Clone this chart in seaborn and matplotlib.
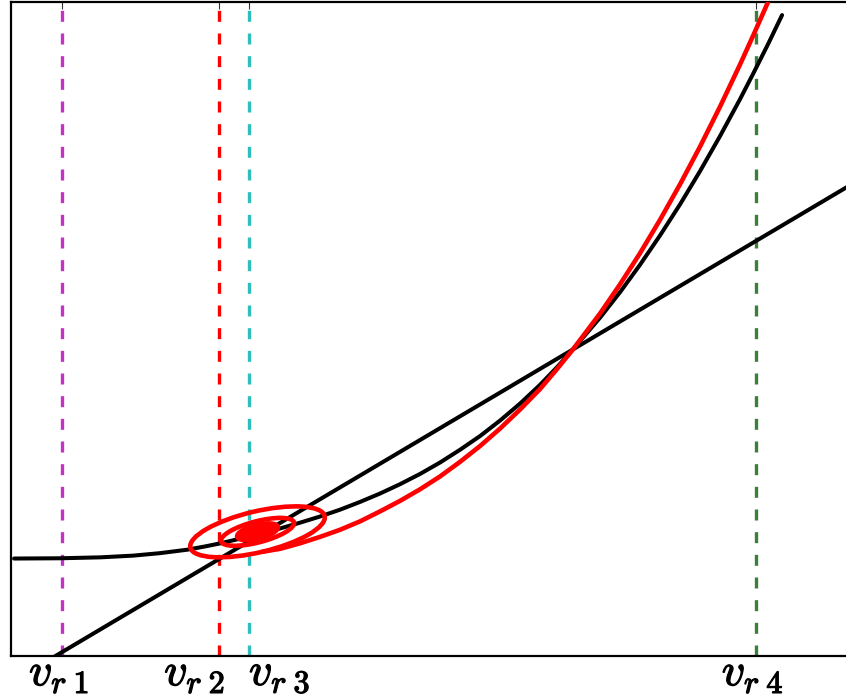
import matplotlib
matplotlib.use("Agg")
import matplotlib.pyplot as plt
import matplotlib.patheffects as pe
import matplotlib.transforms as mtransforms
from matplotlib.patches import Ellipse
import seaborn as sns

# Convex response curve
curve_x = [0.023, 0.373, 0.677, 0.928, 1.133, 1.338, 1.475, 1.589, 1.703, 1.818,
           1.932, 2.046, 2.198, 2.350, 2.502, 2.654, 2.806, 2.958, 3.110, 3.262,
           3.414, 3.567, 3.719, 3.871, 4.023, 4.152, 4.274, 4.479, 4.631, 4.783,
           4.935, 5.088, 5.240, 5.392, 5.544, 5.650, 5.757, 5.863]
curve_y = [0.002, 0.004, 0.011, 0.024, 0.043, 0.069, 0.094, 0.117, 0.144, 0.172,
           0.202, 0.231, 0.275, 0.322, 0.374, 0.433, 0.497, 0.568, 0.646, 0.733,
           0.830, 0.935, 1.053, 1.182, 1.325, 1.459, 1.596, 1.836, 2.030, 2.239,
           2.462, 2.700, 2.953, 3.220, 3.501, 3.707, 3.920, 4.140]

# Secant line through the curve
secant_x = [0.335, 6.610]
secant_y = [-0.742, 2.981]

# Second-order approximation
approx_x = [1.909, 2.046, 2.198, 2.350, 2.502, 2.654, 2.806, 2.958, 3.110, 3.262,
            3.414, 3.567, 3.719, 3.871, 4.023, 4.152, 4.274, 4.479, 4.631, 4.783,
            4.935, 5.088, 5.240, 5.392, 5.544, 5.650, 5.757, 5.810]
approx_y = [0.053, 0.076, 0.118, 0.167, 0.221, 0.285, 0.361, 0.441, 0.529, 0.627,
            0.738, 0.859, 0.992, 1.137, 1.293, 1.445, 1.596, 1.868, 2.090, 2.327,
            2.581, 2.853, 3.140, 3.444, 3.765, 3.999, 4.241, 4.365]

# Gaussian contour ellipses: (width, height, angle, filled)
ell_center = (1.8745, 0.2053)
ell_width = [1.049, 0.573, 0.319]
ell_height = [0.312, 0.161, 0.106]
ell_angle = [13.3, 14.6, 14.0]
ell_filled = [False, False, True]

# Reference voltages
vr_pos = [0.388, 1.582, 1.810, 5.662]
vr_labels = [r"$v_{r\;1}$", r"$v_{r\;2}$", r"$v_{r\;3}$", r"$v_{r\;4}$"]
vr_colors = ["#C432C4", "#FF0000", "#2EBFBD", "#3B7F3B"]
vr_align = ["center", "right", "left", "center"]
vr_shift = [-3, 6, 0, -3]

sns.set_style("white")
plt.rcParams["mathtext.fontset"] = "cm"

fig = plt.figure(figsize=(8.46, 6.98), dpi=100)
ax = fig.add_axes([0.013, 0.0602, 1.026, 0.937])

for xv, col in zip(vr_pos, vr_colors):
    ax.axvline(xv, color=col, lw=2.4, linestyle=(0, (3.3, 3.5)), zorder=1)

sns.lineplot(x=curve_x, y=curve_y, color="black", lw=2.9, ax=ax, zorder=2)
sns.lineplot(x=secant_x, y=secant_y, color="black", lw=2.9, ax=ax, zorder=2)
sns.lineplot(x=approx_x, y=approx_y, color="#FF0000", lw=3.3, ax=ax, zorder=3)

for w, h, a, f in zip(ell_width, ell_height, ell_angle, ell_filled):
    ax.add_patch(Ellipse(ell_center, w, h, angle=a, fill=f,
                         facecolor="#FF0000" if f else "none",
                         edgecolor="#FF0000", lw=3.3, zorder=3))

ax.set_xlim(0, 6.6)
ax.set_ylim(-0.74, 4.24)
ax.set_xticks(vr_pos)
ax.set_xticklabels(vr_labels)
ax.set_yticks([0, 1, 2, 3, 4])
ax.set_yticklabels([])
ax.tick_params(direction="in", top=True, right=True, length=5, width=0.8,
               colors="#333333", labelcolor="black", labelsize=33, pad=-4)
for lab, ha, dx in zip(ax.get_xticklabels(), vr_align, vr_shift):
    lab.set_ha(ha)
    lab.set_path_effects([pe.withStroke(linewidth=0.9, foreground="black")])
    lab.set_transform(lab.get_transform() +
                      mtransforms.ScaledTranslation(dx / 100, 0, fig.dpi_scale_trans))
for sp in ax.spines.values():
    sp.set_color("black")
    sp.set_linewidth(1.6)

fig.savefig("out.png", dpi=100, facecolor="white")
